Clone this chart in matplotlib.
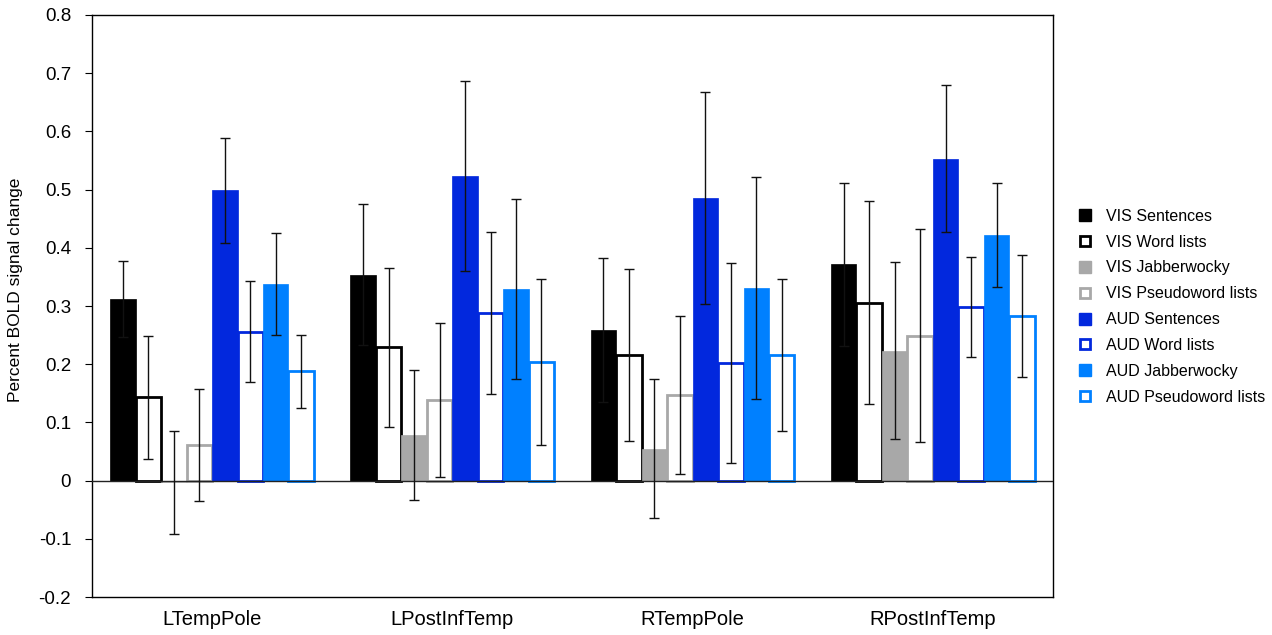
import matplotlib
matplotlib.use('Agg')
import matplotlib.pyplot as plt
from matplotlib.lines import Line2D
import numpy as np

plt.rcParams['font.family'] = ['Liberation Sans', 'DejaVu Sans']

regions = ['LTempPole', 'LPostInfTemp', 'RTempPole', 'RPostInfTemp']
conditions = ['VIS Sentences', 'VIS Word lists', 'VIS Jabberwocky', 'VIS Pseudoword lists',
              'AUD Sentences', 'AUD Word lists', 'AUD Jabberwocky', 'AUD Pseudoword lists']

# rows = conditions, columns = regions
means = [
    [0.312, 0.354, 0.259, 0.372],
    [0.143, 0.229, 0.216, 0.306],
    [-0.003, 0.078, 0.055, 0.223],
    [0.061, 0.138, 0.147, 0.249],
    [0.499, 0.524, 0.485, 0.553],
    [0.256, 0.288, 0.202, 0.299],
    [0.338, 0.329, 0.331, 0.422],
    [0.188, 0.204, 0.216, 0.283],
]
errors = [
    [0.066, 0.121, 0.124, 0.140],
    [0.106, 0.137, 0.148, 0.175],
    [0.089, 0.112, 0.120, 0.152],
    [0.096, 0.132, 0.136, 0.183],
    [0.090, 0.163, 0.182, 0.126],
    [0.087, 0.140, 0.172, 0.086],
    [0.087, 0.154, 0.190, 0.090],
    [0.063, 0.143, 0.130, 0.105],
]

colors = ['#000000', '#000000', '#a8a8a8', '#a8a8a8',
          '#0228dd', '#0228dd', '#0080ff', '#0080ff']
filled = [True, False, True, False, True, False, True, False]

fig = plt.figure(figsize=(12.72, 6.35), dpi=100)
ax = fig.add_axes([0.0723, 0.0598, 0.7555, 0.9166])

x = np.arange(len(regions))
w = 0.106
for i in range(len(conditions)):
    pos = x + (i - 3.5) * w
    if filled[i]:
        ax.bar(pos, means[i], w, color=colors[i], edgecolor=colors[i], linewidth=0.5, zorder=2)
    else:
        ax.bar(pos, means[i], w, color='white', edgecolor=colors[i], linewidth=2, zorder=2)
for i in range(len(conditions)):
    pos = x + (i - 3.5) * w
    ax.errorbar(pos, means[i], yerr=errors[i], fmt='none', ecolor='#111111',
                elinewidth=1, capsize=3.5, capthick=1, zorder=4)

ax.axhline(0, color='#222222', linewidth=1, zorder=3)
ax.set_xlim(-0.5, 3.5)
ax.set_ylim(-0.2, 0.8)
ax.set_yticks(np.arange(-0.2, 0.81, 0.1))
ax.set_yticklabels(['-0.2', '-0.1', '0', '0.1', '0.2', '0.3', '0.4', '0.5', '0.6', '0.7', '0.8'])
ax.set_xticks(x)
ax.set_xticklabels(regions, fontsize=14.5)
ax.tick_params(axis='x', length=0, pad=9)
ax.tick_params(axis='y', direction='out', length=5, labelsize=13.5, pad=10)
ax.set_ylabel('Percent BOLD signal change', fontsize=12.5, labelpad=12)
ax.yaxis.set_label_coords(-0.072, 0.527)
for s in ax.spines.values():
    s.set_linewidth(1)

handles = []
for i in range(len(conditions)):
    if filled[i]:
        h = Line2D([], [], linestyle='none', marker='s', markersize=8,
                   markerfacecolor=colors[i], markeredgecolor=colors[i])
    else:
        h = Line2D([], [], linestyle='none', marker='s', markersize=7,
                   markerfacecolor='white', markeredgecolor=colors[i], markeredgewidth=2)
    handles.append(h)
fig.legend(handles, conditions, loc='center left', bbox_to_anchor=(0.8367, 0.517),
           frameon=False, fontsize=11.5, handlelength=0.8, handletextpad=0.9,
           labelspacing=0.68)

plt.savefig('out.png', dpi=100)
